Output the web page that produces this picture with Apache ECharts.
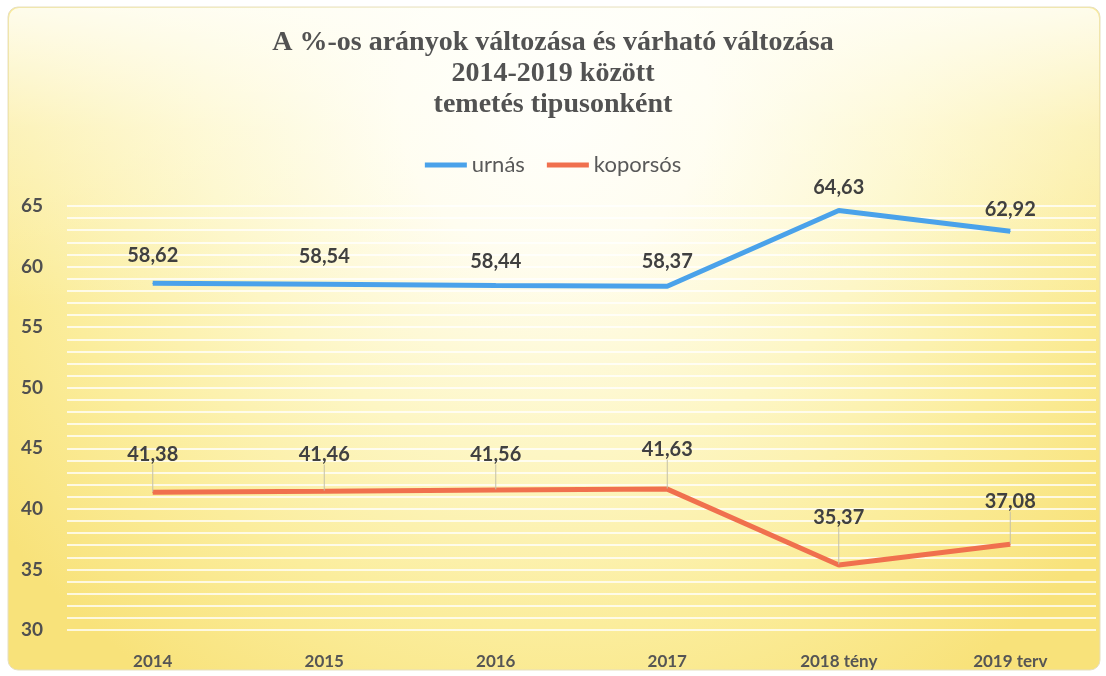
<!DOCTYPE html>
<html>
<head>
<meta charset="utf-8">
<script src="https://cdn.jsdelivr.net/npm/echarts@6/dist/echarts.min.js"></script>
<style>
html,body{margin:0;padding:0;background:#fff;}
#c{width:1106px;height:676px;}
</style>
</head>
<body>
<div id="c"></div>
<script>
var categories = ['2014', '2015', '2016', '2017', '2018 tény', '2019 terv'];
var urnas = [58.62, 58.54, 58.44, 58.37, 64.63, 62.92];
var koporsos = [41.38, 41.46, 41.56, 41.63, 35.37, 37.08];
var seriesNames = ['urnás', 'koporsós'];
var titleText = 'A %-os arányok változása és várható változása\n2014-2019 között\ntemetés tipusonként';

// label vertical shifts (style only)
var labelShift = [
  [-17, -17, -13, -14, -12, -11],
  [-27, -26, -25, -29, -37, -32]
];

var chart = echarts.init(document.getElementById('c'), null, {renderer: 'canvas'});
var fmt = function (p) { return p.value.toFixed(2).replace('.', ','); };

chart.setOption({
  animation: false,
  backgroundColor: '#ffffff',
  graphic: [{
    type: 'rect',
    z: -100,
    shape: {x: 8, y: 7, width: 1092, height: 663, r: 10},
    style: {
      fill: {
        type: 'radial', x: 0.5, y: 0.15, r: 1.05,
        colorStops: [
          {offset: 0, color: '#fffffb'},
          {offset: 0.22, color: '#fffdee'},
          {offset: 0.5, color: '#fdf6c4'},
          {offset: 0.75, color: '#fbed9c'},
          {offset: 1, color: '#f8e27a'}
        ]
      },
      stroke: '#e6dfc0',
      lineWidth: 1
    }
  }, {
    type: 'rect',
    z: -99,
    shape: {x: 9, y: 8, width: 1090, height: 300, r: 10},
    style: {
      fill: {
        type: 'linear', x: 0, y: 0, x2: 0, y2: 1,
        colorStops: [
          {offset: 0, color: 'rgba(255,255,250,0.85)'},
          {offset: 0.4, color: 'rgba(255,255,250,0.35)'},
          {offset: 1, color: 'rgba(255,255,250,0)'}
        ]
      }
    }
  }],
  title: {
    text: titleText,
    left: 'center',
    top: 22,
    textStyle: {
      fontFamily: 'Liberation Serif',
      fontWeight: 'bold',
      fontSize: 28,
      lineHeight: 31,
      color: '#525252'
    }
  },
  legend: {
    top: 149,
    left: 'center',
    icon: 'rect',
    itemWidth: 42,
    itemHeight: 5,
    itemGap: 22,
    textStyle: {fontFamily: 'Lato', fontSize: 22, color: '#595959'},
    data: seriesNames
  },
  grid: {left: 67, right: 10, top: 206, bottom: 46},
  xAxis: {
    type: 'category',
    data: categories,
    boundaryGap: true,
    axisLine: {show: false},
    axisTick: {show: false},
    axisLabel: {
      margin: 23,
      fontFamily: 'Lato',
      fontWeight: 'bold',
      fontSize: 17,
      color: '#555555'
    },
    splitLine: {show: false}
  },
  yAxis: {
    type: 'value',
    min: 30,
    max: 65,
    interval: 5,
    axisLine: {show: false},
    axisTick: {show: false},
    axisLabel: {
      margin: 24,
      fontFamily: 'Lato',
      fontWeight: 'bold',
      fontSize: 19,
      color: '#505050'
    },
    splitLine: {show: true, lineStyle: {color: 'rgba(255,255,255,0.75)', width: 2}},
    minorTick: {show: false, splitNumber: 5},
    minorSplitLine: {show: true, lineStyle: {color: 'rgba(255,255,255,0.75)', width: 2}}
  },
  series: [
    {
      name: seriesNames[0],
      type: 'line',
      data: urnas,
      symbol: 'circle',
      symbolSize: 1,
      showSymbol: true,
      lineStyle: {color: '#4aa2ea', width: 5},
      itemStyle: {color: '#4aa2ea'},
      label: {
        show: true, position: 'top', distance: 0,
        formatter: fmt,
        fontFamily: 'Lato', fontWeight: 'bold', fontSize: 20, lineHeight: 20,
        color: '#404040'
      },
      labelLayout: function (p) { return {dy: labelShift[0][p.dataIndex]}; },
      labelLine: {show: false}
    },
    {
      name: seriesNames[1],
      type: 'line',
      data: koporsos,
      symbol: 'circle',
      symbolSize: 1,
      showSymbol: true,
      lineStyle: {color: '#f0704e', width: 5},
      itemStyle: {color: '#f0704e'},
      label: {
        show: true, position: 'top', distance: 0,
        formatter: fmt,
        fontFamily: 'Lato', fontWeight: 'bold', fontSize: 20, lineHeight: 20,
        color: '#404040'
      },
      labelLayout: function (p) { return {dy: labelShift[1][p.dataIndex]}; },
      labelLine: {show: true, lineStyle: {color: '#c4c0a8', width: 1}}
    }
  ]
});
</script>
</body>
</html>
